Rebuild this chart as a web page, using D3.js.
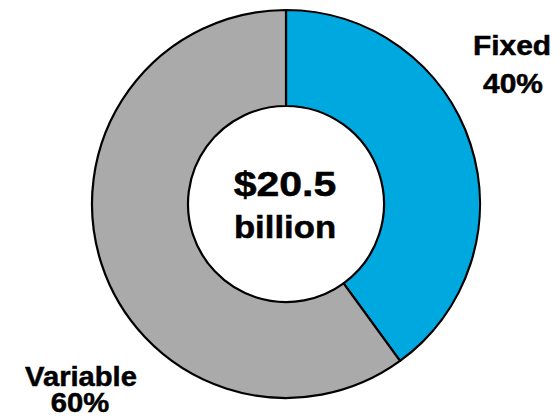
<!DOCTYPE html>
<html>
<head>
<meta charset="utf-8">
<script src="https://cdn.jsdelivr.net/npm/d3@7"></script>
<style>
  html, body { margin: 0; padding: 0; background: #fff; }
  svg { display: block; }
  text { font-family: "Liberation Sans", Arial, sans-serif; font-weight: bold; fill: #000; stroke: #000; stroke-width: 0.5px; }
</style>
</head>
<body>
<script>
// Cost split of total spending
const categories = ["Fixed", "Variable"];
const shares = [40, 60];
const sliceColors = ["#00A8E0", "#AAAAAA"];
const totalLabel = ["$20.5", "billion"];

const width = 560, height = 417;
const cx = 286, cy = 204;
const outerR = 194, innerR = 98;

const svg = d3.select("body").append("svg")
  .attr("width", width)
  .attr("height", height);

const pie = d3.pie().sort(null).value(d => d)(shares);
const arc = d3.arc().innerRadius(innerR).outerRadius(outerR);

const g = svg.append("g").attr("transform", `translate(${cx},${cy})`);

g.selectAll("path.slice")
  .data(pie)
  .join("path")
  .attr("class", "slice")
  .attr("d", arc)
  .attr("fill", (d, i) => sliceColors[i])
  .attr("stroke", "#000")
  .attr("stroke-width", 2.2)
  .attr("stroke-linejoin", "round");

// Text helper: centred, slightly widened bold label
function label(x, y, txt, size, sx) {
  svg.append("text")
    .attr("transform", `translate(${x},${y}) scale(${sx},1)`)
    .attr("text-anchor", "middle")
    .style("font-size", size + "px")
    .text(txt);
}

// Centre total
label(285, 196, totalLabel[0], 36, 1.14);
label(285, 238, totalLabel[1], 31, 1.12);

// Slice labels
label(512, 55, categories[0], 28, 1.07);
label(513, 93, shares[0] + "%", 28, 1.07);
label(81, 386, categories[1], 27, 1.08);
label(80, 412, shares[1] + "%", 27, 1.08);
</script>
</body>
</html>
